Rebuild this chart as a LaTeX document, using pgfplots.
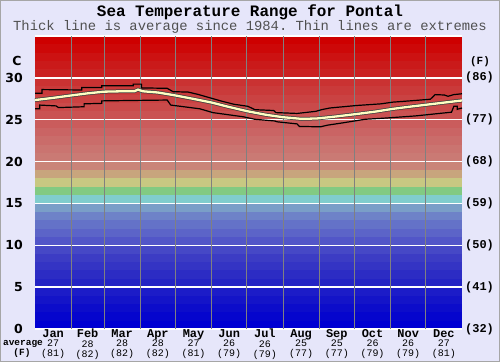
\documentclass[border=0pt]{standalone}
\usepackage{fontspec}
\setmainfont{Liberation Mono}
\setmonofont{Liberation Mono}
\newfontfamily\dvs{DejaVu Sans}
\usepackage{pgfplots}
\usepackage{pgfplotstable}
\pgfplotsset{compat=1.18}
\definecolor{bgc}{RGB}{230,230,250}
\definecolor{avgc}{RGB}{255,255,195}
\definecolor{subc}{RGB}{80,80,80}
\definecolor{bandc0}{RGB}{0,0,210}
\definecolor{bandc1}{RGB}{5,5,205}
\definecolor{bandc2}{RGB}{12,12,202}
\definecolor{bandc3}{RGB}{20,20,200}
\definecolor{bandc4}{RGB}{28,28,200}
\definecolor{bandc5}{RGB}{36,36,196}
\definecolor{bandc6}{RGB}{44,44,196}
\definecolor{bandc7}{RGB}{52,52,196}
\definecolor{bandc8}{RGB}{60,60,196}
\definecolor{bandc9}{RGB}{70,72,198}
\definecolor{bandc10}{RGB}{82,86,200}
\definecolor{bandc11}{RGB}{92,100,200}
\definecolor{bandc12}{RGB}{100,114,200}
\definecolor{bandc13}{RGB}{110,130,200}
\definecolor{bandc14}{RGB}{122,158,200}
\definecolor{bandc15}{RGB}{128,205,205}
\definecolor{bandc16}{RGB}{130,202,130}
\definecolor{bandc17}{RGB}{200,200,130}
\definecolor{bandc18}{RGB}{200,165,125}
\definecolor{bandc19}{RGB}{202,132,120}
\definecolor{bandc20}{RGB}{202,122,116}
\definecolor{bandc21}{RGB}{202,116,112}
\definecolor{bandc22}{RGB}{202,108,106}
\definecolor{bandc23}{RGB}{202,100,100}
\definecolor{bandc24}{RGB}{202,92,92}
\definecolor{bandc25}{RGB}{202,82,82}
\definecolor{bandc26}{RGB}{202,74,74}
\definecolor{bandc27}{RGB}{202,66,66}
\definecolor{bandc28}{RGB}{202,58,58}
\definecolor{bandc29}{RGB}{202,50,50}
\definecolor{bandc30}{RGB}{202,34,34}
\definecolor{bandc31}{RGB}{202,26,26}
\definecolor{bandc32}{RGB}{204,18,18}
\definecolor{bandc33}{RGB}{205,8,8}
\definecolor{bandc34}{RGB}{206,0,0}
\newcommand\ml[3]{{\fontsize{12}{12}\selectfont\bfseries #1}\\[-0.5bp]#2\\[0bp](#3)}
\newcommand\fl[1]{\fontsize{#1}{#1}\selectfont}

\pgfplotstableread{
day T
0 27.35
15 27.6
31 27.9
45 28.15
59 28.35
75 28.4
85 28.4
88 28.6
92 28.4
105 28.25
118 27.95
135 27.5
151 27.05
165 26.55
182 26.0
197 25.6
212 25.3
228 25.1
241 25.15
255 25.35
273 25.65
290 25.95
306 26.3
320 26.55
335 26.8
350 27.05
365 27.3
}\avgtab

\pgfplotstableread{
day T
0 28.15
6 28.15
6 28.6
40 28.55
40 28.85
57 28.85
57 29.05
84 29.05
84 29.25
91 29.25
91 28.8
113 28.75
118 28.35
131 28.3
140 28.0
150 27.6
160 27.2
170 26.85
182 26.6
188 26.2
204 26.1
206 25.85
224 25.75
240 26.0
245 26.2
252 26.4
275 26.7
296 26.9
306 27.1
325 27.3
338 27.45
342 28.0
350 27.95
353 27.8
358 28.0
365 28.1
}\hitab

\pgfplotstableread{
day T
0 26.3
4 26.3
4 26.75
18 26.65
20 26.45
42 26.55
42 26.9
57 26.95
57 27.25
84 27.3
113 27.35
116 26.75
130 26.5
141 26.3
152 25.85
165 25.6
178 25.35
188 25.05
205 24.85
207 24.75
224 24.5
226 24.2
244 24.15
250 24.35
262 24.6
282 25.05
300 25.2
325 25.45
356 25.9
358 26.6
361 26.6
361 26.25
365 26.4
}\lotab

\begin{document}
\begin{tikzpicture}[x=1bp,y=1bp]
\path[use as bounding box] (0,0) rectangle (500,362);
\fill[bgc] (0,0) rectangle (500,362);
\draw[gray!70,line width=0.8bp] (0.4,0.4) rectangle (499.6,361.6);
\foreach \i in {0,...,34}{
  \fill[bandc\i] (35,{33+\i*293/35}) rectangle (462,{33+(\i+1)*293/35});
}
\begin{axis}[
  at={(35bp,33bp)}, anchor=south west,
  scale only axis, width=427bp, height=293bp,
  xmin=0, xmax=365, ymin=0, ymax=35,
  axis line style={draw=none},
  tick style={draw=none},
  ytick={0,5,...,35},
  yticklabels={0,5,10,15,20,25,30,},
  ymajorgrids,
  major grid style={white, line width=1.3bp},
  /pgf/number format/assume math mode=true,
  yticklabel style={font=\dvs\bfseries\fl{12.5}, anchor=east, inner sep=0pt, xshift=-12bp},
  xtick={15.5,45,74.5,105,135.5,166,196.5,227.5,258,288.5,319,349.5},
  xticklabels={\ml{Jan}{27}{81},\ml{Feb}{28}{82},\ml{Mar}{28}{82},\ml{Apr}{28}{82},\ml{May}{27}{81},\ml{Jun}{26}{79},\ml{Jul}{26}{79},\ml{Aug}{25}{77},\ml{Sep}{25}{77},\ml{Oct}{26}{79},\ml{Nov}{26}{79},\ml{Dec}{27}{81}},
  xticklabel style={font=\ttfamily\fontsize{10}{10}\selectfont, align=center, anchor=north, inner sep=0pt, yshift=0bp},
  extra x ticks={31,59,90,120,151,181,212,243,273,304,334},
  extra x tick labels={},
  extra x tick style={xmajorgrids=true, major grid style={draw=black!50, line width=0.9bp}},
  clip=false,
]
\addplot[black, line width=1.2bp] table[x=day,y=T] {\hitab};
\addplot[black, line width=1.2bp] table[x=day,y=T] {\lotab};
\addplot[black!75, line width=3.8bp] table[x=day,y=T] {\avgtab};
\addplot[avgc, line width=2.3bp] table[x=day,y=T] {\avgtab};
\node[anchor=west, inner sep=0pt, font=\ttfamily\bfseries\fl{12}, xshift=3bp] at (axis cs:365,0) {(32)};
\node[anchor=west, inner sep=0pt, font=\ttfamily\bfseries\fl{12}, xshift=3bp] at (axis cs:365,5) {(41)};
\node[anchor=west, inner sep=0pt, font=\ttfamily\bfseries\fl{12}, xshift=3bp] at (axis cs:365,10) {(50)};
\node[anchor=west, inner sep=0pt, font=\ttfamily\bfseries\fl{12}, xshift=3bp] at (axis cs:365,15) {(59)};
\node[anchor=west, inner sep=0pt, font=\ttfamily\bfseries\fl{12}, xshift=3bp] at (axis cs:365,20) {(68)};
\node[anchor=west, inner sep=0pt, font=\ttfamily\bfseries\fl{12}, xshift=3bp] at (axis cs:365,25) {(77)};
\node[anchor=west, inner sep=0pt, font=\ttfamily\bfseries\fl{12}, xshift=3bp] at (axis cs:365,30) {(86)};
\end{axis}
\node[font=\ttfamily\bfseries\fl{16}] at (250,350) {Sea Temperature Range for Pontal};
\node[font=\ttfamily\fl{13.9}, text=subc] at (250,335) {Thick line is average since 1984. Thin lines are extremes};
\node[font=\dvs\bfseries\fl{12.5}] at (17,301) {C};
\node[font=\ttfamily\bfseries\fl{11}] at (480,300) {(F)};
\node[font=\ttfamily\bfseries\fl{9.5}] at (23,18) {average};
\node[font=\ttfamily\bfseries\fl{9.5}] at (22,9) {(F)};
\end{tikzpicture}
\end{document}
